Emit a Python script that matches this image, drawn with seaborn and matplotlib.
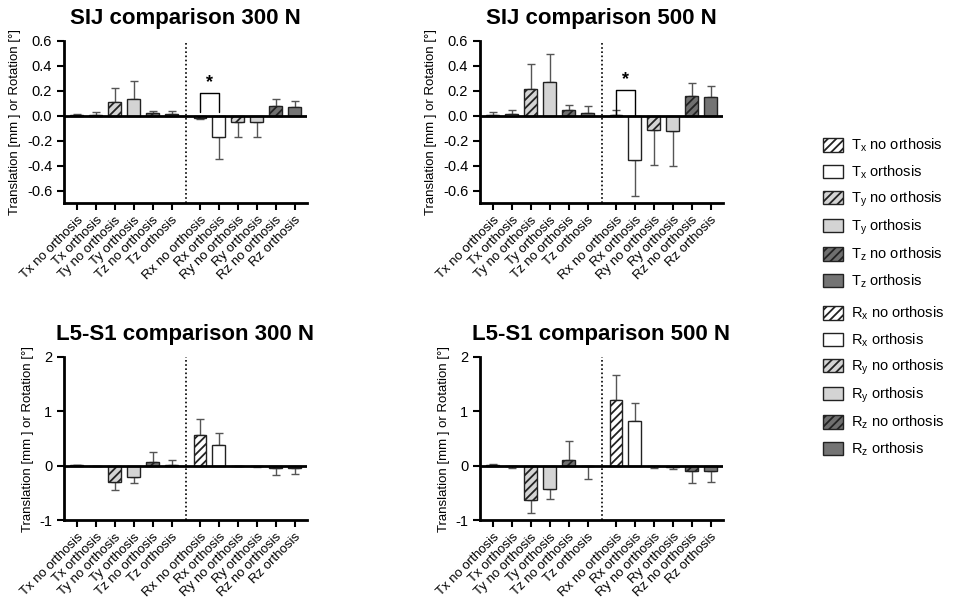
import numpy as np
import pandas as pd
import matplotlib
matplotlib.use('Agg')
import matplotlib.pyplot as plt
import matplotlib.patches as mpatches
import seaborn as sns

# categories
labels = ['Tx no orthosis', 'Tx orthosis', 'Ty no orthosis', 'Ty orthosis',
          'Tz no orthosis', 'Tz orthosis', 'Rx no orthosis', 'Rx orthosis',
          'Ry no orthosis', 'Ry orthosis', 'Rz no orthosis', 'Rz orthosis']
positions = [0, 1, 2, 3, 4, 5, 6.5, 7.5, 8.5, 9.5, 10.5, 11.5]

# means and one-sided error (SD)
sij300_mean = [0.003, 0.003, 0.110, 0.136, 0.021, 0.013, -0.015, -0.171, -0.048, -0.053, 0.075, 0.072]
sij300_sd = [0.010, 0.026, 0.114, 0.141, 0.016, 0.024, 0.007, 0.173, 0.120, 0.120, 0.061, 0.045]
sij500_mean = [0.003, 0.013, 0.216, 0.275, 0.048, 0.021, 0.008, -0.352, -0.117, -0.120, 0.157, 0.147]
sij500_sd = [0.026, 0.037, 0.200, 0.224, 0.040, 0.056, 0.035, 0.291, 0.275, 0.280, 0.107, 0.088]
l5300_mean = [0.010, -0.003, -0.296, -0.204, 0.062, 0.005, 0.562, 0.377, -0.005, -0.010, -0.050, -0.050]
l5300_sd = [0.005, 0.003, 0.161, 0.111, 0.185, 0.106, 0.302, 0.216, 0.007, 0.020, 0.117, 0.104]
l5500_mean = [0.010, -0.010, -0.630, -0.438, 0.105, -0.010, 1.210, 0.827, -0.010, -0.020, -0.093, -0.093]
l5500_sd = [0.027, 0.033, 0.240, 0.179, 0.345, 0.237, 0.450, 0.333, 0.027, 0.035, 0.227, 0.207]

legend_labels = [r'T$_\mathregular{x}$ no orthosis', r'T$_\mathregular{x}$ orthosis',
                 r'T$_\mathregular{y}$ no orthosis', r'T$_\mathregular{y}$ orthosis',
                 r'T$_\mathregular{z}$ no orthosis', r'T$_\mathregular{z}$ orthosis',
                 r'R$_\mathregular{x}$ no orthosis', r'R$_\mathregular{x}$ orthosis',
                 r'R$_\mathregular{y}$ no orthosis', r'R$_\mathregular{y}$ orthosis',
                 r'R$_\mathregular{z}$ no orthosis', r'R$_\mathregular{z}$ orthosis']

fills = ['white', 'white', '#d4d4d4', '#d4d4d4', '#6f6f6f', '#747474'] * 2
hatches = ['////', '', '////', '', '////', ''] * 2

sns.set_style('ticks')
plt.rcParams['font.family'] = ['Liberation Sans', 'DejaVu Sans']
plt.rcParams['mathtext.fontset'] = 'custom'
plt.rcParams['mathtext.rm'] = 'Liberation Sans'
plt.rcParams['mathtext.it'] = 'Liberation Sans'
plt.rcParams['axes.unicode_minus'] = False
plt.rcParams['hatch.linewidth'] = 1.3
plt.rcParams['hatch.color'] = 'black'
for k in ['text.color', 'axes.labelcolor', 'xtick.color', 'ytick.color', 'axes.titlecolor']:
    plt.rcParams[k] = 'black'

fig = plt.figure(figsize=(9.58, 5.98), dpi=100)

panels = [
    ('SIJ comparison 300 N', sij300_mean, sij300_sd, [64, 41, 307, 203], (-0.7, 0.6), True),
    ('SIJ comparison 500 N', sij500_mean, sij500_sd, [480, 41, 723, 203], (-0.7, 0.6), True),
    ('L5-S1 comparison 300 N', l5300_mean, l5300_sd, [64, 357, 307, 520], (-1, 2), False),
    ('L5-S1 comparison 500 N', l5500_mean, l5500_sd, [480, 357, 723, 520], (-1, 2), False),
]

W, H = 958, 598
for title, mean, sd, box, ylim, sij in panels:
    x0, y0, x1, y1 = box
    ax = fig.add_axes([x0 / W, 1 - y1 / H, (x1 - x0) / W, (y1 - y0) / H])
    df = pd.DataFrame({'pos': positions, 'value': mean})
    sns.barplot(data=df, x='pos', y='value', native_scale=True, width=0.68,
                color='white', edgecolor='#222222', linewidth=1.0,
                errorbar=None, ax=ax, zorder=3)
    for p, fc, h in zip(ax.patches, fills, hatches):
        p.set_facecolor(fc)
        p.set_hatch(h)
    m = np.array(mean)
    s = np.array(sd)
    lower = np.where(m < 0, s, 0)
    upper = np.where(m >= 0, s, 0)
    ax.errorbar(positions, m, yerr=[lower, upper], fmt='none', ecolor='#555555',
                elinewidth=1.0, capsize=3, capthick=1.0, zorder=2)
    ax.axhline(0, color='black', lw=2, zorder=4)
    ax.axvline(5.75, color='black', lw=1.2, ls=(0, (1, 1.5)), zorder=1)
    ax.set_xlim(-0.68, 12.15)
    ax.set_ylim(*ylim)
    if sij:
        ax.set_yticks([0.6, 0.4, 0.2, 0.0, -0.2, -0.4, -0.6])
        ax.set_yticklabels(['0.6', '0.4', '0.2', '0.0', '-0.2', '-0.4', '-0.6'])
    else:
        ax.set_yticks([2, 1, 0, -1])
        ax.set_yticklabels(['2', '1', '0', '-1'])
    ax.set_xticks(positions)
    ax.set_xticklabels(labels, rotation=45, ha='right', rotation_mode='anchor', fontsize=9.5)
    ax.tick_params(axis='y', labelsize=10.5, width=1.5, length=5, color='black')
    ax.tick_params(axis='x', width=1.5, length=5, color='black', pad=3)
    ax.set_xlabel('')
    ax.set_ylabel('Translation [mm ] or Rotation [°]', fontsize=9.5, labelpad=4)
    ax.set_title(title, fontsize=16, fontweight='bold', pad=12)
    for sp in ['top', 'right']:
        ax.spines[sp].set_visible(False)
    for sp in ['left', 'bottom']:
        ax.spines[sp].set_linewidth(2)
        ax.spines[sp].set_color('black')
    ax.set_facecolor('white')
    if sij:
        # significance bracket between Rx no orthosis and Rx orthosis
        top = 0.18 if title.endswith('300 N') else 0.205
        foot = 0.03 if title.endswith('300 N') else 0.0
        ax.plot([positions[6], positions[6], positions[7], positions[7]],
                [foot, top, top, foot], color='black', lw=1, zorder=5)
        ax.text((positions[6] + positions[7]) / 2, top + 0.015, '*', ha='center',
                va='bottom', fontsize=13, fontweight='bold')

handles = [mpatches.Patch(facecolor=fc, edgecolor='#222222', hatch=h, lw=1)
           for fc, h in zip(fills, hatches)]
common = dict(frameon=False, handlelength=1.35, handleheight=1.0, labelspacing=0.61,
              handletextpad=0.55, borderpad=0, borderaxespad=0, fontsize=10.5,
              loc='upper left', labelcolor='black')
leg1 = fig.legend(handles[:6], legend_labels[:6], bbox_to_anchor=(823 / W, 1 - 137 / H), **common)
leg2 = fig.legend(handles[6:], legend_labels[6:], bbox_to_anchor=(823 / W, 1 - 305 / H), **common)

fig.savefig('out.png', dpi=100, facecolor='white')
